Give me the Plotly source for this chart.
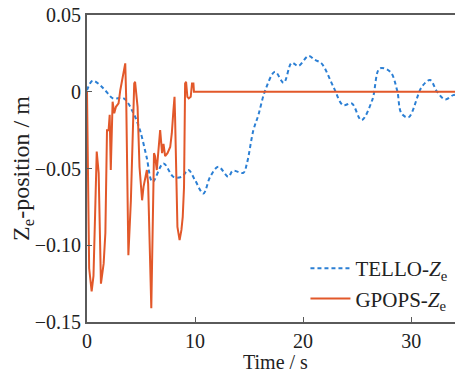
import plotly.graph_objects as go

tello_t = [0, 0.52, 1.2, 1.8, 2.4, 3.4, 4.3, 4.9, 5.5, 6.07, 7.07, 8.0, 8.77, 9.38, 10.0,
           10.77, 11.4, 12.16, 13.08, 13.5, 14.47, 14.8, 15.4, 15.86, 16.5, 17.4, 18.2,
           18.95, 19.56, 20.5, 21.1, 21.7, 22.8, 23.7, 24.5, 25.4, 26.4, 27.1, 28.06,
           28.7, 29.1, 29.75, 31.0, 31.76, 32.4, 33.15, 33.9, 34.8]
tello_z = [0.001, 0.0072, 0.0044, 0.0, -0.0043, -0.0043, -0.014, -0.025, -0.042, -0.0587,
           -0.0467, -0.0554, -0.0554, -0.051, -0.0576, -0.0663, -0.0554, -0.0489, -0.0554,
           -0.0515, -0.0528, -0.0467, -0.025, -0.0152, 0.001, 0.013, 0.0059, 0.0189,
           0.0168, 0.0233, 0.0207, 0.0185, 0.0033, -0.0087, -0.0076, -0.0185, -0.0054,
           0.0152, 0.013, 0.001, -0.014, -0.0167, 0.0033, 0.0076, 0.0, -0.005, -0.0022,
           -0.0015]

gpops_t = [0, 0.08, 0.2, 0.43, 0.6, 0.75, 0.9, 1.08, 1.2, 1.29, 1.54, 1.7, 1.85, 2.0, 2.1,
           2.2, 2.37, 2.52, 2.68, 2.92, 3.08, 3.26, 3.54, 3.63, 3.83, 4.06, 4.25, 4.37,
           4.45, 4.68, 4.86, 4.98, 5.1, 5.23, 5.35, 5.54, 5.66, 5.85, 5.95, 6.2, 6.3,
           6.46, 6.58, 6.77, 6.95, 7.08, 7.23, 7.45, 7.7, 7.85, 8.0, 8.1, 8.15, 8.25,
           8.37, 8.57, 8.74, 8.86, 8.98, 9.08, 9.17, 9.29, 9.42, 9.6, 9.72, 9.85, 9.9,
           15.0, 20.0, 25.0, 30.0, 34.8]
gpops_z = [0, -0.07, -0.115, -0.13, -0.12, -0.08, -0.039, -0.053, -0.105, -0.125,
           -0.112, -0.092, -0.025, -0.025, -0.015, -0.051, -0.0065, -0.014, -0.0098,
           -0.0076, 0.001, 0.0076, 0.0185, -0.005, -0.1065, -0.071, -0.016, 0.0054,
           0.0065, -0.0098, -0.049, -0.062, -0.0707, -0.062, -0.0576, -0.051, -0.06,
           -0.103, -0.141, -0.040, -0.042, -0.051, -0.040, -0.025, -0.040, -0.034,
           -0.042, -0.040, -0.036, -0.027, -0.012, -0.0033, -0.016, -0.053, -0.088,
           -0.0967, -0.090, -0.0815, -0.062, 0.0054, 0.0065, -0.0033, -0.0043, -0.0033,
           0.0054, 0.0054, 0.0, 0, 0, 0, 0, 0]

y_ticks = [0.05, 0, -0.05, -0.10, -0.15]
y_ticktext = ["0.05", "0", "\u22120.05", "\u22120.10", "\u22120.15"]
x_ticks = [0, 10, 20, 30]

BLUE = "#2b7fd4"
ORANGE = "#e2582a"
AXIS = "#5a5a5a"
FONT = "Liberation Serif, Times New Roman, serif"

fig = go.Figure()
fig.add_trace(go.Scatter(x=tello_t, y=tello_z, mode="lines", line_shape="spline",
                         name="TELLO-<i>Z</i><sub>e</sub>",
                         line=dict(color=BLUE, width=2, dash="4px,3px")))
fig.add_trace(go.Scatter(x=gpops_t, y=gpops_z, mode="lines",
                         name="GPOPS-<i>Z</i><sub>e</sub>",
                         line=dict(color=ORANGE, width=2)))

# page has an 8px body margin; figure sized so the plot lands where the reference's does
fig.update_layout(
    width=455, height=366,
    margin=dict(l=79, r=0, t=7, b=52),
    paper_bgcolor="white", plot_bgcolor="white",
    font=dict(family=FONT, size=20, color="#222"),
    showlegend=True,
    legend=dict(x=0.581, y=0.241, xanchor="left", yanchor="top",
                bgcolor="rgba(0,0,0,0)", font=dict(size=21), tracegroupgap=0,
                itemwidth=40),
    xaxis=dict(range=[0, 34.8], tickvals=x_ticks, ticks="inside", ticklen=5,
               tickcolor=AXIS, showline=True, linecolor=AXIS, linewidth=2,
               mirror=True, showgrid=False, zeroline=False, automargin=False,
               ticklabeloverflow="allow"),
    yaxis=dict(range=[-0.15, 0.05], tickvals=y_ticks, ticktext=y_ticktext,
               ticks="inside", ticklen=5, tickcolor=AXIS, showline=True,
               linecolor=AXIS, linewidth=2, showgrid=False, zeroline=False,
               automargin=False, ticklabeloverflow="allow",
               title=dict(text="Z<sub>e</sub>-position / m", standoff=4)),
    annotations=[dict(text="Time / s", xref="paper", yref="paper", x=0.5, y=0,
                      xanchor="center", yanchor="middle", yshift=-40,
                      showarrow=False, font=dict(size=20))],
)

fig.write_html("out.html")
